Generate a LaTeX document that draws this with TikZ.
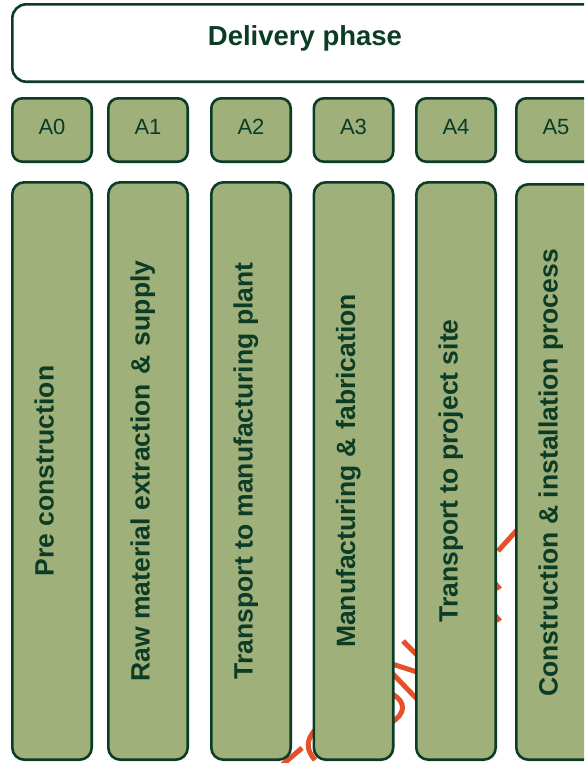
\documentclass[tikz,border=0pt]{standalone}
\usepackage{fontspec}
\setmainfont{Liberation Sans}
\definecolor{boxfill}{RGB}{160,176,122}
\definecolor{dkgreen}{RGB}{12,60,38}
\definecolor{wmark}{RGB}{228,80,42}
\begin{document}
\begin{tikzpicture}[x=1pt,y=-1pt,
  box/.style={draw=dkgreen, line width=2.6pt, fill=boxfill, inner sep=0pt, rounded corners=11pt},
  codebox/.style={box, minimum width=79.4pt, minimum height=63.4pt, rounded corners=10pt},
  tallbox/.style={box, minimum width=79.4pt, minimum height=577.4pt, rounded corners=12pt},
  codetext/.style={anchor=base, text=dkgreen, inner sep=0pt, font=\fontsize{22pt}{26pt}\selectfont},
  talltext/.style={anchor=base, rotate=90, text=dkgreen, inner sep=0pt, font=\fontsize{26.5pt}{30pt}\selectfont\bfseries},
  titletext/.style={anchor=base, text=dkgreen, inner sep=0pt, font=\fontsize{27.5pt}{32pt}\selectfont\bfseries},
  wm/.style={draw=wmark, line width=5pt}]
\useasboundingbox (0,0) rectangle (584,763);
\clip (0,0) rectangle (584,763);
% watermark fragments (behind the boxes)
\draw[wm] (403,641) -- (417,655);
\draw[wm] (392,664) -- (417,672);
\draw[wm] (392,673) -- (417,699);
\draw[wm] (392,694) .. controls (407,702) and (405,714) .. (392,722);
\draw[wm] (315,730) .. controls (306,740) and (306,750) .. (315,760);
\draw[wm] (282,765) -- (302,748);
\draw[wm] (348,765) -- (366,765);
\draw[wm] (498,551) -- (517,530);
\draw[wm] (492,580) -- (500,589);
\draw[wm] (492,612) -- (500,621);
% top box
\node[box, fill=white, rounded corners=14pt, minimum width=585.4pt, minimum height=77.4pt] (top) at (305,43) {};
\node[titletext] (toptext) at (305,45) {Delivery phase};
% code boxes
\node[codebox] (c0) at (52,130) {};
\node[codebox] (c1) at (148,130) {};
\node[codebox] (c2) at (251,130) {};
\node[codebox] (c3) at (353.5,130) {};
\node[codebox] (c4) at (456,130) {};
\node[codebox] (c5) at (556,130) {};
\node[codetext] (t0) at (52,134) {A0};
\node[codetext] (t1) at (148,134) {A1};
\node[codetext] (t2) at (251,134) {A2};
\node[codetext] (t3) at (353.5,134) {A3};
\node[codetext] (t4) at (456,134) {A4};
\node[codetext] (t5) at (556,134) {A5};
% tall boxes
\node[tallbox] (b0) at (52,471) {};
\node[tallbox] (b1) at (148,471) {};
\node[tallbox] (b2) at (251,471) {};
\node[tallbox] (b3) at (353.5,471) {};
\node[tallbox] (b4) at (456,471) {};
\node[tallbox, minimum height=575.4pt] (b5) at (556,472) {};
\node[talltext] (l0) at (53.5,471) {Pre construction};
\node[talltext] (l1) at (149.5,471) {Raw material extraction\kern2pt{} \&\kern2pt{} supply};
\node[talltext] (l2) at (252.5,471) {Transport to manufacturing plant};
\node[talltext] (l3) at (355,471) {Manufacturing\kern1pt{} \&\kern1pt{} fabrication};
\node[talltext] (l4) at (457.5,471) {Transport to project site};
\node[talltext] (l5) at (557.5,473) {Construction \& installation process};
\end{tikzpicture}
\end{document}
